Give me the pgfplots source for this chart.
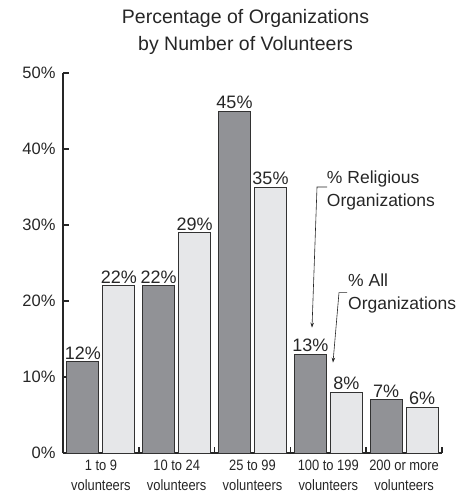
\documentclass[border=0pt]{standalone}
\usepackage{fontspec}
\setmainfont{Liberation Sans}
\newfontfamily\narrowfont[FakeStretch=0.86]{Liberation Sans}
\usepackage{pgfplots}
\pgfplotsset{compat=1.18}
\usetikzlibrary{arrows.meta}
\definecolor{relig}{RGB}{145,146,150}
\definecolor{allorg}{RGB}{230,231,233}
\definecolor{edge}{RGB}{50,50,50}

\begin{document}
\begin{tikzpicture}
\useasboundingbox (-63pt,-43pt) rectangle (396pt,453pt);
\begin{axis}[
  at={(0,0)}, anchor=south west,
  scale only axis, width=379pt, height=380pt,
  xmin=-0.5, xmax=4.5, ymin=0, ymax=50,
  axis x line=bottom, axis y line=left,
  axis line style={-, line width=1.6pt, black!85},
  clip=false,
  ybar=4pt, bar width=32pt,
  tick align=inside,
  xtick={0,...,4},
  xticklabels={{1 to 9\\volunteers},{10 to 24\\volunteers},{25 to 99\\volunteers},{100 to 199\\volunteers},{200 or more\\volunteers}},
  x tick label style={align=center, font=\narrowfont\fontsize{15}{20}\selectfont, yshift=-3pt, black!85},
  major x tick style={draw=none},
  minor xtick={-0.5,0.5,...,4.5},
  minor tick length=6pt,
  minor x tick style={line width=1.6pt, black!85},
  ytick={0,10,...,50},
  yticklabels={0\%,10\%,20\%,30\%,40\%,50\%},
  major tick length=6pt,
  y tick style={line width=1.6pt, black!85},
  y tick label style={font=\fontsize{16.5}{20}\selectfont, xshift=-4pt, black!85},
  /pgf/number format/assume math mode=true,
  nodes near coords={\pgfmathprintnumber{\pgfplotspointmeta}\%},
  nodes near coords style={font=\fontsize{18}{20}\selectfont, inner sep=2pt, black!85},
]
\addplot[fill=relig, draw=edge, line width=0.8pt] coordinates {(0,12) (1,22) (2,45) (3,13) (4,7)};
\addplot[fill=allorg, draw=edge, line width=0.8pt] coordinates {(0,22) (1,29) (2,35) (3,8) (4,6)};

\node[anchor=base, font=\fontsize{19.5}{27}\selectfont, black!85] at (axis cs:1.908,56.54) {Percentage of Organizations};
\node[anchor=base, font=\fontsize{19.5}{27}\selectfont, black!85] at (axis cs:1.908,52.97) {by Number of Volunteers};

\node[anchor=north west, align=left, inner sep=0pt, font=\fontsize{17.5}{23}\selectfont, black!85] at (axis cs:2.98,37.2) {\% Religious\\Organizations};
\draw[-{Stealth[length=5pt,width=3.5pt]}, line width=0.6pt, black!85] (axis cs:2.983,35.0) -- (axis cs:2.851,35.0) -- (axis cs:2.785,16.5);

\node[anchor=north west, align=left, inner sep=0pt, font=\fontsize{17.5}{23}\selectfont, black!85] at (axis cs:3.26,23.6) {\% All\\Organizations};
\draw[-{Stealth[length=5pt,width=3.5pt]}, line width=0.6pt, black!85] (axis cs:3.247,21.1) -- (axis cs:3.141,21.1) -- (axis cs:3.062,11.9);
\end{axis}
\end{tikzpicture}
\end{document}
